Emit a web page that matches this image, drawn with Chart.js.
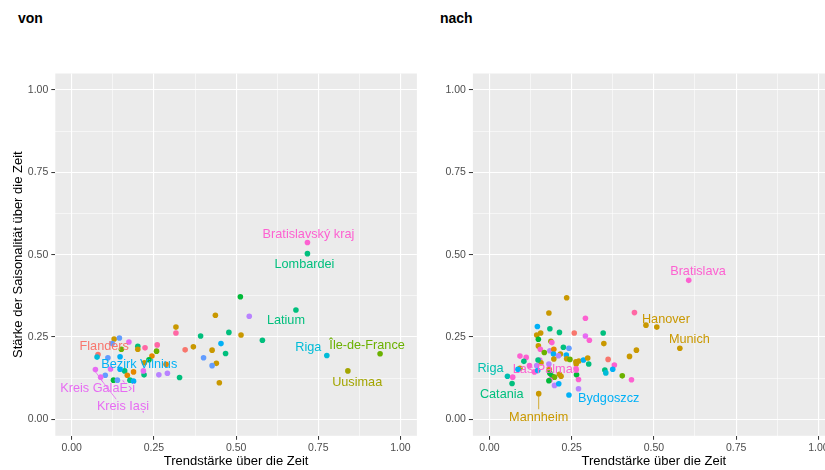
<!DOCTYPE html>
<html>
<head>
<meta charset="utf-8">
<script src="https://cdn.jsdelivr.net/npm/chart.js@4/dist/chart.umd.min.js"></script>
<style>
html,body{margin:0;padding:0;background:#fff;width:825px;height:470px;overflow:hidden;position:relative;}
canvas{position:absolute;top:0;}
.ttl{position:absolute;top:10px;font:bold 14px "Liberation Sans",Arial,sans-serif;color:#000;line-height:16px;}
</style>
</head>
<body>
<div class="ttl" style="left:18px">von</div>
<div class="ttl" style="left:440px">nach</div>
<canvas id="c1" width="420" height="470" style="left:0"></canvas>
<canvas id="c2" width="420" height="470" style="left:420px"></canvas>
<script>
// ---- data ----
const tickValues = [0, 0.25, 0.5, 0.75, 1];
const tickLabels = ["0.00", "0.25", "0.50", "0.75", "1.00"];
const minorTicks = [0.125, 0.375, 0.625, 0.875];
const xTitle = "Trendstärke über die Zeit";
const yTitle = "Stärke der Saisonalität über die Zeit";

const vonX = [.513,.437,.540,.317,.317,.478,.515,.392,.129,.145,.174,.123,.151,.201,.201,.223,.260,.258,.345,.370,.454,.427,.468,.401,.440,.427,.449,.328,.080,.077,.110,.147,.244,.235,.221,.287,.161,.188,.220,.218,.265,.291,.169,.102,.118,.072,.088,.127,.139,.177,.188,.147,.580,.717,.717,.682,.776,.938,.840];
const vonY = [.372,.316,.313,.280,.262,.264,.256,.253,.244,.247,.235,.230,.213,.222,.213,.217,.226,.207,.211,.220,.230,.210,.200,.187,.170,.163,.111,.127,.197,.189,.187,.190,.192,.181,.172,.167,.147,.144,.135,.147,.135,.140,.134,.134,.153,.151,.128,.119,.119,.119,.116,.152,.240,.537,.503,.332,.194,.199,.147];
const vonGroup = [5,2,11,2,14,6,2,6,2,10,12,10,4,6,2,14,14,4,0,2,9,2,6,10,2,10,2,6,0,8,10,9,1,5,2,1,6,1,6,12,11,11,1,10,12,12,12,5,10,6,9,9,6,13,6,6,8,4,3];
const vonLabelNames = ["Bratislavský kraj","Lombardei","Latium","Riga","Île-de-France","Uusimaa","Flanders","Bezirk Vilnius","Kreis GalaÈ›i","Kreis Iași"];
const vonLabelPoints = [53,54,55,56,57,58,28,51,45,46];

const nachX = [.235,.181,.292,.441,.476,.509,.146,.184,.213,.258,.346,.144,.156,.292,.304,.149,.187,.190,.348,.149,.155,.167,.184,.196,.195,.216,.225,.242,.234,.235,.245,.210,.196,.153,.157,.148,.181,.093,.112,.105,.122,.144,.093,.087,.137,.147,.182,.184,.191,.198,.213,.218,.184,.181,.198,.211,.263,.272,.286,.299,.302,.264,.264,.265,.271,.271,.242,.150,.055,.071,.069,.361,.380,.351,.354,.375,.404,.432,.426,.447,.606,.579];
const nachY = [.369,.323,.307,.324,.286,.280,.282,.275,.264,.262,.262,.256,.262,.253,.240,.243,.237,.233,.230,.223,.213,.203,.208,.213,.198,.198,.219,.216,.195,.184,.182,.193,.183,.180,.172,.180,.168,.192,.188,.176,.163,.163,.155,.152,.144,.148,.152,.140,.131,.128,.137,.131,.119,.117,.103,.108,.175,.177,.180,.186,.168,.168,.152,.135,.121,.093,.074,.078,.131,.128,.109,.182,.165,.150,.141,.152,.132,.120,.191,.210,.422,.216];
const nachGroup = [2,2,13,14,2,2,9,6,6,0,6,2,2,12,13,5,3,13,2,2,13,4,11,1,9,2,6,10,9,2,4,11,2,12,2,6,11,13,13,6,13,11,2,9,13,9,2,5,5,4,2,2,13,5,11,9,2,2,9,2,6,2,13,5,13,11,9,2,7,13,6,0,13,6,8,9,4,13,2,2,13,2];
const nachLabelNames = ["Bratislava","Hanover","Munich","Riga","Las Palmas","Catania","Mannheim","Bydgoszcz"];
const nachLabelPoints = [80,5,81,68,44,70,67,66];

// ---- style ----
const palette = ["#F8766D","#E58700","#C99800","#A3A500","#6BB100","#00BA38","#00BF7D","#00C0AF","#00BCD8","#00B0F6","#619CFF","#B983FF","#E76BF3","#FD61D1","#FF67A4"];
const FONT = '"Liberation Sans", Arial, sans-serif';
const labelOffsets = {
  "Bratislavský kraj": {dx: 1, dy: -8.3},
  "Lombardei": {dx: -3, dy: 11.3},
  "Latium": {dx: -10, dy: 11},
  "Riga": {dx: -18.5, dy: -8},
  "Île-de-France": {dx: -13, dy: -8.4},
  "Uusimaa": {dx: 9.3, dy: 11.7},
  "Flanders": {dx: 6.2, dy: -8.3},
  "Bezirk Vilnius": {dx: 19.2, dy: -5},
  "Kreis GalaÈ›i": {dx: 2.2, dy: 18.6, seg: [7.5, 12.5]},
  "Kreis Iași": {dx: 22.3, dy: 29.4, seg: [15.5, 22]}
};
const labelOffsets2 = {
  "Bratislava": {dx: 9.3, dy: -8.6},
  "Hanover": {dx: 9.1, dy: -8},
  "Munich": {dx: 9.5, dy: -8.3},
  "Riga": {dx: -17, dy: -8},
  "Las Palmas": {dx: 11.5, dy: -2.7},
  "Catania": {dx: -10.3, dy: 11},
  "Mannheim": {dx: 0, dy: 23.6, seg: [0, 15.6]},
  "Bydgoszcz": {dx: 39.7, dy: 3.3}
};

const allTicks = tickValues.concat(minorTicks).sort((a,b)=>a-b);
const isMajor = v => tickValues.some(t => Math.abs(t - v) < 1e-9);

const panelBg = {
  id: 'panelBg',
  beforeDraw(chart) {
    const a = chart.chartArea, c = chart.ctx;
    c.save(); c.fillStyle = '#EBEBEB';
    c.fillRect(a.left, a.top, a.right - a.left, a.bottom - a.top);
    c.restore();
  }
};

function makeLabelPlugin(names, pts, offs, xs, ys, groups) {
  return {
    id: 'repelLabels',
    afterDatasetsDraw(chart) {
      const c = chart.ctx, sx = chart.scales.x, sy = chart.scales.y;
      c.save();
      c.font = '12.7px ' + FONT;
      c.textAlign = 'center';
      c.textBaseline = 'middle';
      names.forEach((n, i) => {
        const k = pts[i];
        const px = sx.getPixelForValue(xs[k]), py = sy.getPixelForValue(ys[k]);
        const o = offs[n];
        const col = palette[groups[k]];
        if (o.seg) {
          c.strokeStyle = col; c.lineWidth = 0.8;
          c.beginPath(); c.moveTo(px, py + 2); c.lineTo(px + o.seg[0], py + o.seg[1]); c.stroke();
        }
        c.fillStyle = col;
        c.fillText(n, px + o.dx, py + o.dy);
      });
      c.restore();
    }
  };
}

function makeChart(id, xs, ys, groups, names, pts, offs, yAxisWidth, rightPad, showYTitle) {
  return new Chart(document.getElementById(id), {
    type: 'scatter',
    data: {
      datasets: [{
        data: xs.map((x, i) => ({x: x, y: ys[i]})),
        backgroundColor: groups.map(g => palette[g]),
        borderWidth: 0,
        pointRadius: 2.8,
        pointHoverRadius: 2.8
      }]
    },
    options: {
      responsive: false,
      animation: false,
      events: [],
      layout: {padding: {top: 73.5, right: rightPad, left: 0, bottom: 0}},
      plugins: {legend: {display: false}, tooltip: {enabled: false}, title: {display: false}},
      scales: {
        x: {
          type: 'linear', min: -0.05, max: 1.05,
          afterBuildTicks: s => { s.ticks = allTicks.map(v => ({value: v})); },
          afterFit: s => { s.height = 34.2; },
          border: {display: false},
          grid: {
            color: '#FFFFFF',
            lineWidth: ctx => isMajor(ctx.tick.value) ? 1.1 : 0.55,
            tickColor: ctx => isMajor(ctx.tick.value) ? '#333333' : 'rgba(0,0,0,0)',
            tickLength: 4, tickWidth: 1
          },
          ticks: {
            autoSkip: false, maxRotation: 0, minRotation: 0, padding: 2,
            color: '#4D4D4D', font: {family: FONT, size: 10.5},
            callback: v => { const j = tickValues.findIndex(t => Math.abs(t - v) < 1e-9); return j >= 0 ? tickLabels[j] : ''; }
          },
          title: {display: true, text: xTitle, color: '#000', font: {family: FONT, size: 13}, padding: {top: 0, bottom: 1}}
        },
        y: {
          type: 'linear', min: -0.05, max: 1.05,
          afterBuildTicks: s => { s.ticks = allTicks.map(v => ({value: v})); },
          afterFit: s => { s.width = yAxisWidth; },
          border: {display: false},
          grid: {
            color: '#FFFFFF',
            lineWidth: ctx => isMajor(ctx.tick.value) ? 1.1 : 0.55,
            tickColor: ctx => isMajor(ctx.tick.value) ? '#333333' : 'rgba(0,0,0,0)',
            tickLength: 4, tickWidth: 1
          },
          ticks: {
            autoSkip: false, padding: 3,
            color: '#4D4D4D', font: {family: FONT, size: 10.5},
            callback: v => { const j = tickValues.findIndex(t => Math.abs(t - v) < 1e-9); return j >= 0 ? tickLabels[j] : ''; }
          },
          title: {display: showYTitle, text: yTitle, color: '#000', font: {family: FONT, size: 13}, padding: {top: 10.2, bottom: 0}}
        }
      }
    },
    plugins: [panelBg, makeLabelPlugin(names, pts, offs, xs, ys, groups)]
  });
}

makeChart('c1', vonX, vonY, vonGroup, vonLabelNames, vonLabelPoints, labelOffsets, 55.3, 3.1, true);
makeChart('c2', nachX, nachY, nachGroup, nachLabelNames, nachLabelPoints, labelOffsets2, 52.9, 5.2, false);
</script>
</body>
</html>
